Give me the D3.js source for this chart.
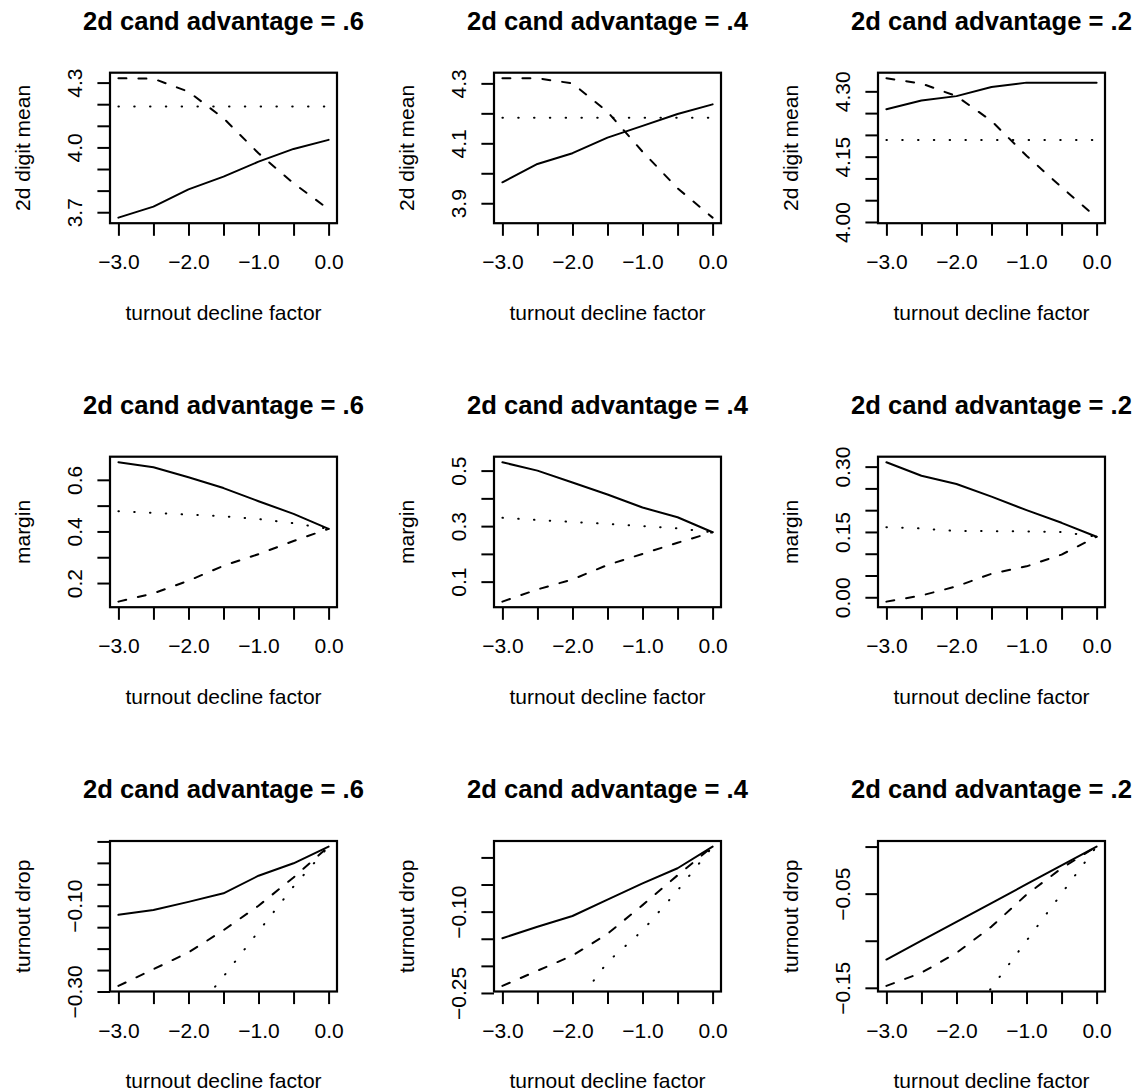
<!DOCTYPE html>
<html><head><meta charset="utf-8">
<script src="https://cdn.jsdelivr.net/npm/d3@7"></script>
<style>
body{margin:0;background:#fff}
svg{display:block}
text{font-family:"Liberation Sans",Arial,Helvetica,sans-serif;fill:#000}
</style></head><body>
<svg id="chart" width="1145" height="1092"></svg>
<script>
// ---------- data ----------
const turnoutDecline = [-3, -2.5, -2, -1.5, -1, -0.5, 0];
const xTickValues = [-3, -2.5, -2, -1.5, -1, -0.5, 0];
const xTickLabelValues = [-3, -2, -1, 0];
const advantageTitles = ["2d cand advantage = .6", "2d cand advantage = .4", "2d cand advantage = .2"];
const measureTitles = ["2d digit mean", "margin", "turnout drop"];
const xAxisTitle = "turnout decline factor";

// 2d digit mean
const meanSolid6  = [3.675, 3.726, 3.806, 3.865, 3.934, 3.993, 4.035];
const meanDashed6 = [4.320, 4.318, 4.258, 4.135, 3.973, 3.834, 3.714];
const meanDotted6 = [4.189, 4.189, 4.189, 4.189, 4.189, 4.189, 4.189];
const meanSolid4  = [3.970, 4.031, 4.067, 4.119, 4.158, 4.198, 4.230];
const meanDashed4 = [4.317, 4.317, 4.300, 4.205, 4.072, 3.950, 3.852];
const meanDotted4 = [4.185, 4.185, 4.185, 4.185, 4.185, 4.185, 4.185];
const meanSolid2  = [4.259, 4.279, 4.289, 4.310, 4.320, 4.320, 4.320];
const meanDashed2 = [4.330, 4.318, 4.289, 4.232, 4.152, 4.080, 4.010];
const meanDotted2 = [4.188, 4.188, 4.188, 4.188, 4.188, 4.188, 4.188];

// margin
const marginSolid6  = [0.668, 0.649, 0.610, 0.568, 0.517, 0.468, 0.410];
const marginDashed6 = [0.128, 0.160, 0.209, 0.267, 0.312, 0.363, 0.410];
const marginDotted6 = [0.478, 0.472, 0.465, 0.459, 0.448, 0.432, 0.410];
const marginSolid4  = [0.530, 0.500, 0.457, 0.414, 0.367, 0.332, 0.278];
const marginDashed4 = [0.028, 0.072, 0.108, 0.160, 0.200, 0.240, 0.278];
const marginDotted4 = [0.330, 0.322, 0.315, 0.308, 0.300, 0.292, 0.278];
const marginSolid2  = [0.310, 0.279, 0.260, 0.231, 0.200, 0.171, 0.139];
const marginDashed2 = [-0.010, 0.004, 0.025, 0.054, 0.071, 0.098, 0.139];
const marginDotted2 = [0.161, 0.158, 0.152, 0.152, 0.151, 0.150, 0.139];

// turnout drop
const dropSolid6  = [-0.121, -0.110, -0.091, -0.071, -0.030, -0.001, 0.038];
const dropDashed6 = [-0.287, -0.248, -0.209, -0.157, -0.100, -0.034, 0.038];
const dropDotted6 = [-0.580, -0.470, -0.364, -0.265, -0.160, -0.055, 0.038];
const dropSolid4  = [-0.149, -0.128, -0.108, -0.078, -0.048, -0.020, 0.020];
const dropDashed4 = [-0.237, -0.209, -0.181, -0.141, -0.088, -0.033, 0.020];
const dropDotted4 = [-0.500, -0.390, -0.280, -0.193, -0.135, -0.061, 0.020];
const dropSolid2  = [-0.120, -0.100, -0.080, -0.060, -0.040, -0.020, 0.000];
const dropDashed2 = [-0.148, -0.134, -0.113, -0.085, -0.051, -0.023, 0.000];
const dropDotted2 = [-0.300, -0.250, -0.200, -0.150, -0.100, -0.050, 0.000];

// y ticks and which of them carry labels
const yTicksMean6 = [3.7, 3.8, 3.9, 4.0, 4.1, 4.2, 4.3];   const yLabelsMean6 = [3.7, 4.0, 4.3];
const yTicksMean4 = [3.9, 4.0, 4.1, 4.2, 4.3];             const yLabelsMean4 = [3.9, 4.1, 4.3];
const yTicksMean2 = [4.00, 4.05, 4.10, 4.15, 4.20, 4.25, 4.30]; const yLabelsMean2 = [4.00, 4.15, 4.30];
const yTicksMargin6 = [0.2, 0.3, 0.4, 0.5, 0.6];           const yLabelsMargin6 = [0.2, 0.4, 0.6];
const yTicksMargin4 = [0.1, 0.2, 0.3, 0.4, 0.5];           const yLabelsMargin4 = [0.1, 0.3, 0.5];
const yTicksMargin2 = [0.00, 0.05, 0.10, 0.15, 0.20, 0.25, 0.30]; const yLabelsMargin2 = [0.00, 0.15, 0.30];
const yTicksDrop6 = [-0.30, -0.25, -0.20, -0.15, -0.10, -0.05, 0.00, 0.05]; const yLabelsDrop6 = [-0.30, -0.10];
const yTicksDrop4 = [-0.25, -0.20, -0.15, -0.10, -0.05, 0.00]; const yLabelsDrop4 = [-0.25, -0.10];
const yTicksDrop2 = [-0.15, -0.10, -0.05, 0.00];            const yLabelsDrop2 = [-0.15, -0.05];

// ---------- panels ----------
const panels = [
  {row:0,col:0,solid:meanSolid6,dashed:meanDashed6,dotted:meanDotted6,ticks:yTicksMean6,labels:yLabelsMean6,fmt:".1f"},
  {row:0,col:1,solid:meanSolid4,dashed:meanDashed4,dotted:meanDotted4,ticks:yTicksMean4,labels:yLabelsMean4,fmt:".1f"},
  {row:0,col:2,solid:meanSolid2,dashed:meanDashed2,dotted:meanDotted2,ticks:yTicksMean2,labels:yLabelsMean2,fmt:".2f"},
  {row:1,col:0,solid:marginSolid6,dashed:marginDashed6,dotted:marginDotted6,ticks:yTicksMargin6,labels:yLabelsMargin6,fmt:".1f"},
  {row:1,col:1,solid:marginSolid4,dashed:marginDashed4,dotted:marginDotted4,ticks:yTicksMargin4,labels:yLabelsMargin4,fmt:".1f"},
  {row:1,col:2,solid:marginSolid2,dashed:marginDashed2,dotted:marginDotted2,ticks:yTicksMargin2,labels:yLabelsMargin2,fmt:".2f"},
  {row:2,col:0,solid:dropSolid6,dashed:dropDashed6,dotted:dropDotted6,ticks:yTicksDrop6,labels:yLabelsDrop6,fmt:".2f"},
  {row:2,col:1,solid:dropSolid4,dashed:dropDashed4,dotted:dropDotted4,ticks:yTicksDrop4,labels:yLabelsDrop4,fmt:".2f"},
  {row:2,col:2,solid:dropSolid2,dashed:dropDashed2,dotted:dropDotted2,ticks:yTicksDrop2,labels:yLabelsDrop2,fmt:".2f"}
];

// ---------- layout ----------
const colLeft = [110, 494, 878];
const rowTop = [72.7, 456.7, 841];
const boxW = 227, boxH = 150.5;
const fs = 21, titleFs = 25.6, tickLen = 12.6, lw = 2;

const svg = d3.select("#chart");
svg.append("rect").attr("width",1145).attr("height",1092).attr("fill","#fff");

const xExt = d3.extent(turnoutDecline);
const xPad = (xExt[1]-xExt[0])*0.04;

panels.forEach((p,i) => {
  const g = svg.append("g").attr("transform",`translate(${colLeft[p.col]},${rowTop[p.row]})`);
  const x = d3.scaleLinear().domain([xExt[0]-xPad, xExt[1]+xPad]).range([0, boxW]);
  const yExt = d3.extent(p.solid.concat(p.dashed));
  const yPad = (yExt[1]-yExt[0])*0.04;
  const y = d3.scaleLinear().domain([yExt[0]-yPad, yExt[1]+yPad]).range([boxH, 0]);

  const clipId = "clip"+i;
  g.append("clipPath").attr("id",clipId).append("rect").attr("width",boxW).attr("height",boxH);

  const line = d3.line().x((d,j)=>x(turnoutDecline[j])).y(d=>y(d));
  const lg = g.append("g").attr("clip-path",`url(#${clipId})`);
  const styles = [
    {data:p.solid, dash:null},
    {data:p.dashed, dash:"8,12"},
    {data:p.dotted, dash:"0.5,15.3"}
  ];
  styles.forEach(s => {
    lg.append("path").datum(s.data).attr("d",line)
      .attr("fill","none").attr("stroke","#000").attr("stroke-width",lw)
      .attr("stroke-linecap","round").attr("stroke-linejoin","round")
      .attr("stroke-dasharray",s.dash);
  });

  // box
  g.append("rect").attr("width",boxW).attr("height",boxH)
    .attr("fill","none").attr("stroke","#000").attr("stroke-width",2.2);

  // x axis
  const xf = d3.format(".1f");
  const xa = g.append("g").attr("transform",`translate(0,${boxH})`)
    .call(d3.axisBottom(x).tickValues(xTickValues).tickSizeInner(tickLen).tickSizeOuter(0)
      .tickFormat(d => xTickLabelValues.some(v=>Math.abs(v-d)<1e-9) ? xf(d) : ""));
  xa.select(".domain").remove();
  xa.selectAll("line").attr("stroke","#000").attr("stroke-width",lw);
  xa.selectAll("text").attr("y",46).attr("dy",null).attr("font-size",fs)
    .attr("font-family",'"Liberation Sans",Arial,sans-serif').attr("fill","#000");

  // y axis
  const yf = d3.format(p.fmt);
  const ya = g.append("g")
    .call(d3.axisLeft(y).tickValues(p.ticks).tickSizeInner(tickLen).tickSizeOuter(0)
      .tickFormat(d => p.labels.some(v=>Math.abs(v-d)<1e-9) ? yf(d) : ""));
  ya.select(".domain").remove();
  ya.selectAll("line").attr("stroke","#000").attr("stroke-width",lw);
  ya.selectAll("text").attr("x",null).attr("y",null).attr("dy",null)
    .attr("transform","translate(-28,0) rotate(-90)").attr("text-anchor","middle")
    .attr("font-size",fs).attr("font-family",'"Liberation Sans",Arial,sans-serif').attr("fill","#000");

  // titles
  g.append("text").attr("x",boxW/2).attr("y",-43).attr("text-anchor","middle")
    .attr("font-size",titleFs).attr("font-weight","bold").text(advantageTitles[p.col]);
  g.append("text").attr("x",boxW/2).attr("y",boxH+96.5).attr("text-anchor","middle")
    .attr("font-size",fs).text(xAxisTitle);
  g.append("text").attr("transform",`translate(-80.5,${boxH/2}) rotate(-90)`).attr("text-anchor","middle")
    .attr("font-size",fs).text(measureTitles[p.row]);
});
</script>
</body></html>
